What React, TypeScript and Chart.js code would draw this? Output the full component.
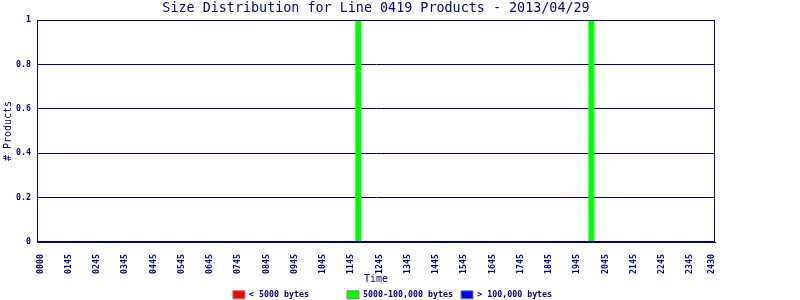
import React, { useEffect, useRef } from "react";
import { Chart, registerables } from "chart.js";

Chart.register(...registerables);

const NAVY = "#000080";
const MONO = "'DejaVu Sans Mono', monospace";

const chartTitle = "Size Distribution for Line 0419 Products - 2013/04/29";
const xTitle = "Time";
const yTitle = "# Products";

// 96 time bins; only some carry a printed label
const timeLabels = [
  "0000", "", "", "", "0145", "", "", "",
  "0245", "", "", "", "0345", "", "", "",
  "0445", "", "", "", "0545", "", "", "",
  "0645", "", "", "", "0745", "", "", "",
  "0845", "", "", "", "0945", "", "", "",
  "1045", "", "", "", "1145", "", "", "",
  "1245", "", "", "", "1345", "", "", "",
  "1445", "", "", "", "1545", "", "", "",
  "1645", "", "", "", "1745", "", "", "",
  "1845", "", "", "", "1945", "", "", "",
  "2045", "", "", "", "2145", "", "", "",
  "2245", "", "", "", "2345", "", "", "2430",
];

const seriesNames = ["< 5000 bytes", "5000-100,000 bytes", "> 100,000 bytes"];
const seriesColors = ["#ff0000", "#00ff00", "#0000ff"];

const smallValues = [
  0, 0, 0, 0, 0, 0, 0, 0, 0, 0, 0, 0, 0, 0, 0, 0,
  0, 0, 0, 0, 0, 0, 0, 0, 0, 0, 0, 0, 0, 0, 0, 0,
  0, 0, 0, 0, 0, 0, 0, 0, 0, 0, 0, 0, 0, 0, 0, 0,
  0, 0, 0, 0, 0, 0, 0, 0, 0, 0, 0, 0, 0, 0, 0, 0,
  0, 0, 0, 0, 0, 0, 0, 0, 0, 0, 0, 0, 0, 0, 0, 0,
  0, 0, 0, 0, 0, 0, 0, 0, 0, 0, 0, 0, 0, 0, 0, 0,
];
const mediumValues = [
  0, 0, 0, 0, 0, 0, 0, 0, 0, 0, 0, 0, 0, 0, 0, 0,
  0, 0, 0, 0, 0, 0, 0, 0, 0, 0, 0, 0, 0, 0, 0, 0,
  0, 0, 0, 0, 0, 0, 0, 0, 0, 0, 0, 0, 0, 1, 0, 0,
  0, 0, 0, 0, 0, 0, 0, 0, 0, 0, 0, 0, 0, 0, 0, 0,
  0, 0, 0, 0, 0, 0, 0, 0, 0, 0, 0, 0, 0, 0, 1, 0,
  0, 0, 0, 0, 0, 0, 0, 0, 0, 0, 0, 0, 0, 0, 0, 0,
];
const largeValues = [
  0, 0, 0, 0, 0, 0, 0, 0, 0, 0, 0, 0, 0, 0, 0, 0,
  0, 0, 0, 0, 0, 0, 0, 0, 0, 0, 0, 0, 0, 0, 0, 0,
  0, 0, 0, 0, 0, 0, 0, 0, 0, 0, 0, 0, 0, 0, 0, 0,
  0, 0, 0, 0, 0, 0, 0, 0, 0, 0, 0, 0, 0, 0, 0, 0,
  0, 0, 0, 0, 0, 0, 0, 0, 0, 0, 0, 0, 0, 0, 0, 0,
  0, 0, 0, 0, 0, 0, 0, 0, 0, 0, 0, 0, 0, 0, 0, 0,
];

const yMin = 0;
const yMax = 1;
const yStep = 0.2;

const framePlugin = {
  id: "frame",
  afterDatasetsDraw(chart: any) {
    const { ctx, chartArea: a } = chart;
    ctx.save();
    ctx.strokeStyle = NAVY;
    ctx.lineWidth = 1;
    const l = Math.round(a.left) + 0.5;
    const t = Math.round(a.top) + 0.5;
    const r = Math.round(a.right) - 0.5;
    const b = Math.round(a.bottom) - 0.5;
    ctx.strokeRect(l, t, r - l, b - t);
    ctx.restore();
  },
};

export default function App() {
  const ref = useRef<HTMLCanvasElement | null>(null);

  useEffect(() => {
    if (!ref.current) return;
    const smallFont = { family: MONO, size: 8.3, weight: "bold" as const };
    const values = [smallValues, mediumValues, largeValues];
    const chart = new Chart(ref.current, {
      type: "bar",
      data: {
        labels: timeLabels,
        datasets: seriesNames.map((name, i) => ({
          label: name,
          data: values[i],
          backgroundColor: seriesColors[i],
          borderWidth: 0,
          barPercentage: 0.85,
          categoryPercentage: 1,
        })),
      },
      options: {
        animation: false,
        responsive: false,
        events: [],
        layout: { padding: { left: 0, right: 0, top: 0, bottom: -9 } },
        plugins: {
          title: {
            display: true,
            text: chartTitle,
            color: NAVY,
            fullSize: false,
            font: { family: MONO, size: 13.4, weight: "normal", lineHeight: "16px" },
            padding: { top: 1, bottom: 3 },
          },
          legend: {
            position: "bottom",
            labels: {
              boxWidth: 12,
              boxHeight: 8,
              padding: 8,
              color: NAVY,
              font: smallFont,
              generateLabels: (c: any) =>
                c.data.datasets.map((ds: any, i: number) => ({
                  text: String(ds.label).padEnd(18, " "),
                  fillStyle: ds.backgroundColor,
                  strokeStyle: "#808080",
                  lineWidth: 1,
                  hidden: false,
                  datasetIndex: i,
                  fontColor: NAVY,
                })),
            },
          },
          tooltip: { enabled: false },
        },
        scales: {
          x: {
            type: "category",
            stacked: true,
            offset: true,
            grid: { display: false },
            border: { color: NAVY },
            ticks: {
              autoSkip: false,
              minRotation: 90,
              maxRotation: 90,
              color: NAVY,
              font: smallFont,
              padding: 4,
            },
            title: {
              display: true,
              text: xTitle,
              color: NAVY,
              font: { family: MONO, size: 10 },
              padding: { top: 0, bottom: -3 },
            },
            afterFit: (s: any) => {
              s.height = 40.7;
            },
          },
          y: {
            stacked: true,
            min: yMin,
            max: yMax,
            ticks: {
              stepSize: yStep,
              color: NAVY,
              font: smallFont,
              padding: 6,
              callback: (v: any) => String(Number(Number(v).toFixed(1))),
            },
            grid: { color: NAVY, drawTicks: false },
            border: { color: NAVY },
            title: {
              display: true,
              text: yTitle,
              color: NAVY,
              font: { family: MONO, size: 10 },
              padding: { top: 2, bottom: 0 },
            },
            afterFit: (s: any) => {
              s.width = 37;
            },
          },
          yr: {
            position: "right",
            display: true,
            grid: { display: false },
            ticks: { display: false },
            border: { display: false },
            afterFit: (s: any) => {
              s.width = 85;
            },
          },
        },
      } as any,
      plugins: [framePlugin],
    });
    return () => chart.destroy();
  }, []);

  return (
    <div style={{ position: "absolute", left: 0, top: 0, width: 800, height: 300, background: "#fff" }}>
      <canvas ref={ref} width={800} height={300} style={{ width: 800, height: 300 }} />
    </div>
  );
}
